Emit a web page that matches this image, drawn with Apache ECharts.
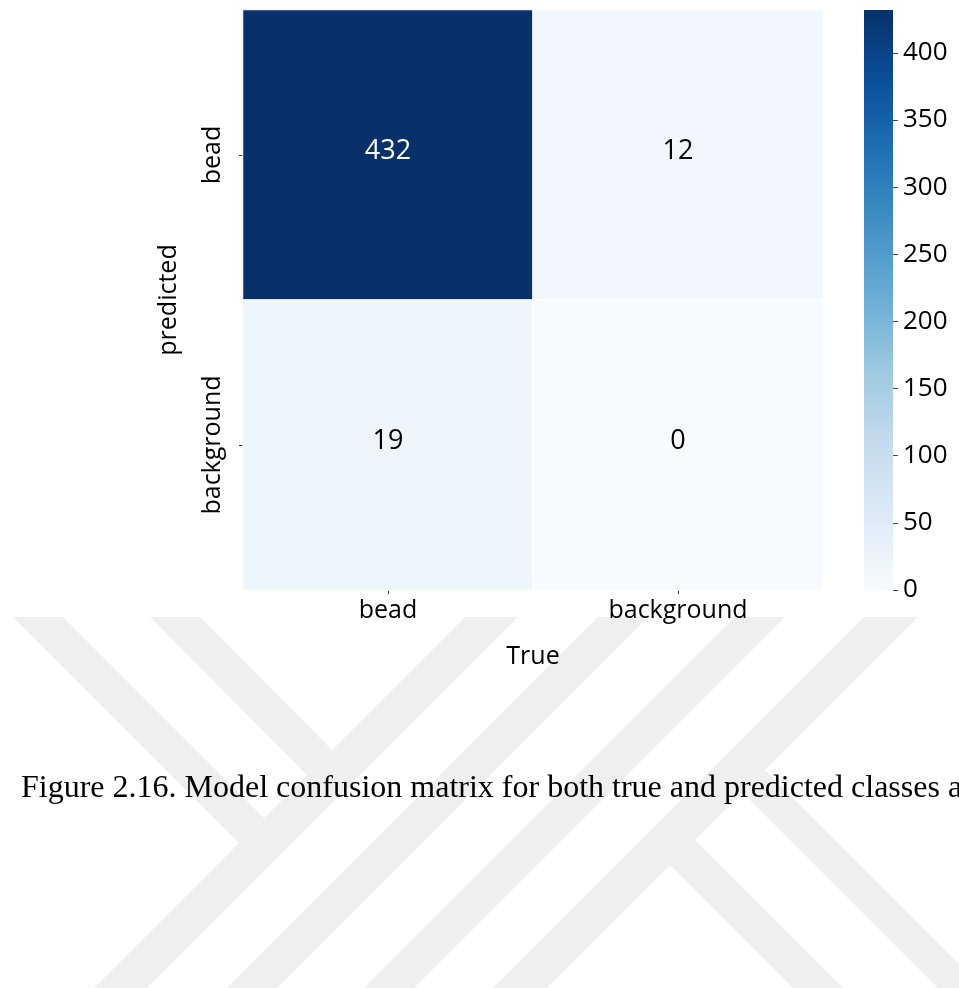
<!DOCTYPE html>
<html><head><meta charset="utf-8">
<script src="https://cdn.jsdelivr.net/npm/echarts@6/dist/echarts.min.js"></script>
<style>html,body{margin:0;padding:0;background:#fff}#c{width:959px;height:988px}</style>
</head><body><div id="c"></div>
<script>
// ---- data ----
const trueClasses = ['bead', 'background'];          // x axis (columns)
const predictedClasses = ['bead', 'background'];     // y axis (rows, top to bottom)
const rowBead = [432, 12];                            // predicted = bead
const rowBackground = [19, 0];                        // predicted = background
const colorbarTicks = [0, 50, 100, 150, 200, 250, 300, 350, 400];
const colorMin = 0, colorMax = 432;
const bluesPalette = ['#f7fbff','#deebf7','#c6dbef','#9ecae1','#6baed6','#4292c6','#2171b5','#08519c','#08306b'];
const captionText = 'Figure 2.16. Model confusion matrix for both true and predicted classes a';

// ---- build ----
const rows = [rowBead, rowBackground];
const heatData = [];
rows.forEach((r, yi) => r.forEach((v, xi) => {
  heatData.push({ value: [xi, yi, v], label: { color: v > (colorMax / 2) ? '#ffffff' : '#000000' } });
}));

const FONT = 'Open Sans';
const wm = '#efefef';
const wmPolys = [
  [[465,617],[518,617],[147,988],[94,988]],
  [[598,617],[648,617],[277,988],[227,988]],
  [[735,617],[785,617],[414,988],[364,988]],
  [[864,617],[918,617],[547,988],[493,988]],
  [[13,617],[63,617],[264,818],[239,843]],
  [[150,617],[200,617],[332,750],[307,775]],
  [[670,865],[695,840],[843,988],[793,988]],
  [[742,792],[765,770],[983,988],[938,988]]
];

const gradStops = bluesPalette.map((c, i) => ({ offset: 1 - i / (bluesPalette.length - 1), color: c }));

const chart = echarts.init(document.getElementById('c'), null, { renderer: 'canvas' });
chart.setOption({
  backgroundColor: '#ffffff',
  animation: false,
  textStyle: { fontFamily: FONT },
  graphic: wmPolys.map(p => ({ type: 'polygon', z: -10, silent: true, shape: { points: p }, style: { fill: wm } }))
    .concat([{ type: 'text', z: 10, left: 21, top: 773, style: { text: captionText, font: '32px "Liberation Serif", "Times New Roman", serif', fill: '#000' } }]),
  grid: [
    { left: 243, top: 10, width: 580, height: 580 },
    { left: 864, top: 10, width: 29, height: 580 }
  ],
  xAxis: [
    { type: 'category', gridIndex: 0, data: trueClasses, position: 'bottom',
      axisLine: { show: false }, splitLine: { show: false },
      axisTick: { show: true, alignWithLabel: true, length: 4, lineStyle: { color: '#333' } },
      axisLabel: { fontSize: 25, color: '#000', margin: 8, fontFamily: FONT },
      name: 'True', nameLocation: 'middle', nameGap: 54,
      nameTextStyle: { fontSize: 25, color: '#000', fontFamily: FONT } },
    { type: 'value', gridIndex: 1, show: false, min: 0, max: 1 }
  ],
  yAxis: [
    { type: 'category', gridIndex: 0, data: predictedClasses, inverse: true,
      axisLine: { show: false }, splitLine: { show: false },
      axisTick: { show: true, alignWithLabel: true, length: 4, lineStyle: { color: '#333' } },
      axisLabel: { fontSize: 25, color: '#000', rotate: 90, margin: 18, fontFamily: FONT },
      name: 'predicted', nameLocation: 'middle', nameRotate: 90, nameGap: 62,
      nameTextStyle: { fontSize: 25, color: '#000', fontFamily: FONT } },
    { type: 'value', gridIndex: 1, position: 'right', min: colorMin, max: colorMax, interval: 50,
      axisLine: { show: false, onZero: false }, splitLine: { show: false },
      axisTick: { show: true, inside: false, length: 5, lineStyle: { color: '#444', width: 1 } },
      axisLabel: { fontSize: 26, color: '#000', margin: 10, showMaxLabel: false, fontFamily: FONT,
        formatter: v => (colorbarTicks.indexOf(v) >= 0 ? String(v) : '') } }
  ],
  visualMap: {
    type: 'continuous', show: false, seriesIndex: 0, min: colorMin, max: colorMax,
    inRange: { color: bluesPalette }
  },
  series: [
    { type: 'heatmap', xAxisIndex: 0, yAxisIndex: 0, data: heatData,
      itemStyle: { borderColor: '#ffffff', borderWidth: 1 },
      label: { show: true, fontSize: 27, fontFamily: FONT, offset: [0, -4],
        formatter: p => String(p.value[2]) } },
    { type: 'custom', xAxisIndex: 1, yAxisIndex: 1, silent: true, z: 1,
      data: [[0, colorMin, colorMax]],
      renderItem: (params, api) => {
        const p0 = api.coord([0, api.value(2)]);
        const p1 = api.coord([1, api.value(1)]);
        return { type: 'rect', shape: { x: p0[0], y: p0[1], width: p1[0] - p0[0], height: p1[1] - p0[1] },
          style: { fill: new echarts.graphic.LinearGradient(0, 0, 0, 1, gradStops) } };
      } }
  ]
});
</script></body></html>
